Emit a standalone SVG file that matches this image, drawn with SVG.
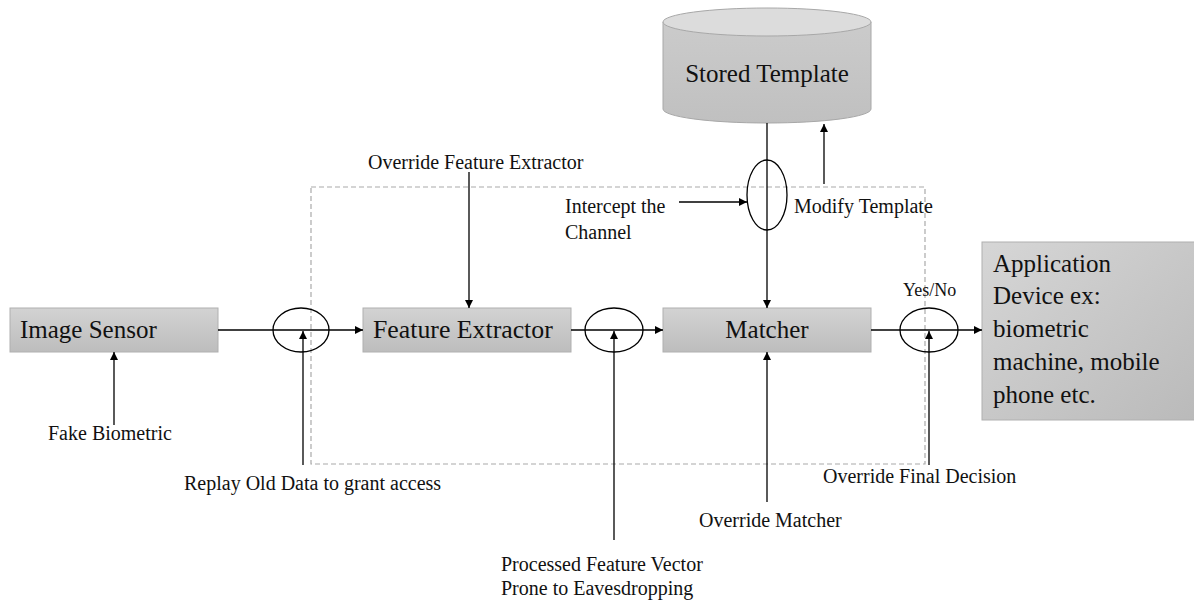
<svg xmlns="http://www.w3.org/2000/svg" width="1194" height="600" viewBox="0 0 1194 600">
  <defs>
    <linearGradient id="boxFill" x1="0" y1="0" x2="0" y2="1">
      <stop offset="0" stop-color="#d3d3d3"/>
      <stop offset="1" stop-color="#bdbdbd"/>
    </linearGradient>
    <linearGradient id="appFill" x1="0" y1="0" x2="1" y2="1">
      <stop offset="0" stop-color="#d6d6d6"/>
      <stop offset="1" stop-color="#bababa"/>
    </linearGradient>
    <linearGradient id="cylFill" x1="0" y1="0" x2="0" y2="1">
      <stop offset="0" stop-color="#cbcbcb"/>
      <stop offset="1" stop-color="#c0c0c0"/>
    </linearGradient>
    <marker id="arrow" viewBox="0 0 10 10" refX="10" refY="5" markerWidth="8" markerHeight="8" markerUnits="userSpaceOnUse" orient="auto">
      <path d="M0,0 L10,5 L0,10 z" fill="#000"/>
    </marker>
  </defs>
  <style>
    .box { fill: url(#boxFill); stroke: #b0b0b0; stroke-width: 1; }
    text { font-family: "Liberation Serif", "DejaVu Serif", serif; fill: #111; }
    .big { font-size: 25px; }
    .wide { font-size: 25.8px; }
    .small { font-size: 20px; }
    .link { stroke: #000; stroke-width: 1.3; fill: none; marker-end: url(#arrow); }
    .tap { stroke: #000; stroke-width: 1.3; fill: none; }
    .zone { fill: none; stroke: #aaaaaa; stroke-width: 1.2; stroke-dasharray: 5 3; }
  </style>

  <rect width="1194" height="600" fill="#fff"/>

  <!-- trusted zone boundary -->
  <rect class="zone" x="311" y="187" width="614" height="277"/>

  <!-- pipeline stages -->
  <g id="image-sensor">
    <rect class="box" x="10" y="308" width="208" height="44"/>
    <text class="big" x="20" y="338">Image Sensor</text>
  </g>
  <g id="feature-extractor">
    <rect class="box" x="363" y="308" width="208" height="44"/>
    <text class="wide" x="373" y="338">Feature Extractor</text>
  </g>
  <g id="matcher">
    <rect class="box" x="663" y="308" width="208" height="44"/>
    <text class="big" x="767" y="338" text-anchor="middle">Matcher</text>
  </g>
  <g id="stored-template">
    <path d="M663,22 L663,109 A104,14 0 0 0 871,109 L871,22" fill="url(#cylFill)" stroke="#a8a8a8" stroke-width="1"/>
    <ellipse cx="767" cy="22" rx="104" ry="14" fill="#dcdcdc" stroke="#a8a8a8" stroke-width="1"/>
    <text class="big" x="767" y="82" text-anchor="middle">Stored Template</text>
  </g>
  <g id="application">
    <rect x="982" y="242" width="214" height="178" fill="url(#appFill)" stroke="#b0b0b0" stroke-width="1"/>
    <text class="big" x="993" y="272">Application</text>
    <text class="big" x="993" y="304">Device ex:</text>
    <text class="big" x="993" y="337">biometric</text>
    <text class="big" x="993" y="370">machine, mobile</text>
    <text class="big" x="993" y="403">phone etc.</text>
  </g>

  <!-- attack points on the channels -->
  <g id="attack-points">
    <ellipse class="tap" cx="301" cy="330" rx="28" ry="22"/>
    <ellipse class="tap" cx="614" cy="330" rx="29" ry="22"/>
    <ellipse class="tap" cx="929" cy="330" rx="29" ry="22"/>
    <ellipse class="tap" cx="767" cy="195" rx="20" ry="35"/>
  </g>

  <!-- connectors -->
  <g id="connectors">
    <line class="link" x1="218" y1="330" x2="363" y2="330"/>
    <line class="link" x1="571" y1="330" x2="663" y2="330"/>
    <line class="link" x1="871" y1="330" x2="982" y2="330"/>
    <line class="link" x1="767" y1="123" x2="767" y2="308"/>
    <line class="link" x1="469" y1="172" x2="469" y2="308"/>
    <line class="link" x1="679" y1="202" x2="747" y2="202"/>
    <line class="link" x1="824" y1="184" x2="824" y2="124"/>
    <line class="link" x1="114" y1="425" x2="114" y2="352"/>
    <line class="link" x1="303" y1="465" x2="303" y2="331"/>
    <line class="link" x1="614" y1="540" x2="614" y2="331"/>
    <line class="link" x1="767" y1="502" x2="767" y2="352"/>
    <line class="link" x1="929" y1="465" x2="929" y2="331"/>
  </g>

  <!-- attack labels -->
  <g id="labels">
    <text class="small" x="368" y="169">Override Feature Extractor</text>
    <text class="small" x="565" y="213">Intercept the</text>
    <text class="small" x="565" y="239">Channel</text>
    <text class="small" x="794" y="213">Modify Template</text>
    <text font-size="18" x="903" y="296">Yes/No</text>
    <text class="small" x="48" y="440">Fake Biometric</text>
    <text class="small" x="184" y="490">Replay Old Data to grant access</text>
    <text class="small" x="501" y="571">Processed Feature Vector</text>
    <text class="small" x="501" y="595">Prone to Eavesdropping</text>
    <text class="small" x="699" y="527">Override Matcher</text>
    <text class="small" x="823" y="483">Override Final Decision</text>
  </g>
</svg>
